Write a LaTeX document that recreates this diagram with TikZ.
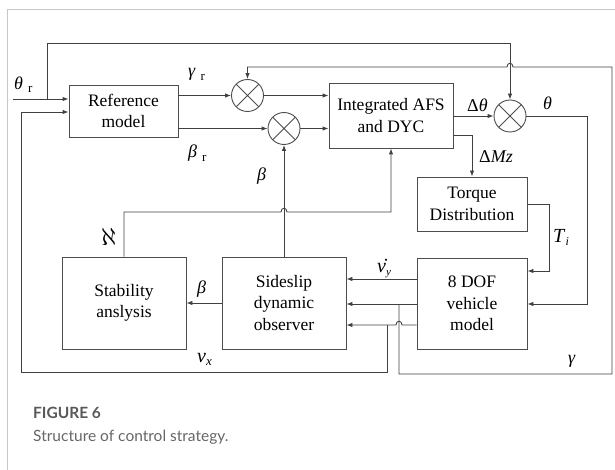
\documentclass[tikz,border=0pt]{standalone}
\usepackage{fontspec}
\setmainfont{Liberation Serif}
\newfontfamily\capfont{Lato}
\usetikzlibrary{arrows.meta}

\begin{document}
\begin{tikzpicture}[x=1pt,y=-1pt,
  wire/.style={draw=black!75, line width=0.9pt},
  arr/.style={wire,-{Latex[length=6pt,width=4.5pt]}},
  blk/.style={draw=black!70, line width=0.9pt, inner sep=0pt, align=center,
    font=\fontsize{17.5}{21.5}\selectfont},
  sum/.style={circle, draw=black!70, line width=0.9pt, minimum size=32pt, inner sep=0pt,
    path picture={\draw[black!70,line width=0.9pt]
      (path picture bounding box.north west) -- (path picture bounding box.south east)
      (path picture bounding box.north east) -- (path picture bounding box.south west);}},
  lbl/.style={inner sep=0pt, anchor=base west, font=\fontsize{18}{18}\selectfont},
]
\useasboundingbox (0,0) rectangle (615,470);

% card frame
\draw[black!22, line width=0.8pt] (7,470) -- (7,9) -- (615,9);

% blocks
\node[blk, minimum width=109pt, minimum height=52pt] (ref) at (123.5,111) {Reference\\model};
\node[blk, minimum width=124pt, minimum height=65pt] (afs) at (391,115.5) {Integrated AFS\\and DYC};
\node[blk, minimum width=110pt, minimum height=54pt] (tq)  at (472,204) {Torque\\Distribution};
\node[blk, minimum width=110pt, minimum height=91pt] (dof) at (472,303.5) {8 DOF\\vehicle\\model};
\node[blk, minimum width=124pt, minimum height=92pt] (obs) at (284,303) {Sideslip\\dynamic\\observer};
\node[blk, minimum width=124pt, minimum height=92pt] (stab) at (124,303) {Stability\\anslysis};

% summing junctions
\node[sum] (s1) at (247.5,95.5) {};
\node[sum] (s2) at (284,128.5) {};
\node[sum] (s3) at (510,116) {};

% helper points
\coordinate (thin) at (13,99);
\coordinate (j0) at (47,99);
\coordinate (top) at (0,43);
\coordinate (thx) at (587,304);
\coordinate (mz) at (472,135);
\coordinate (ti) at (549,271);
\coordinate (gb) at (399,304);
\coordinate (vb) at (387,325);

% steering reference input
\draw[arr] (thin) -- (thin -| ref.west);
\draw[arr] (j0) -- (j0 |- top) -| (s3.north);

% reference model outputs
\draw[arr] (ref.east |- s1) -- (s1.west);
\draw[arr] (ref.east |- s2) -- (s2.west);
\draw[arr] (s1.east) -- (s1.east -| afs.west);
\draw[arr] (s2.east) -- (s2.east -| afs.west);

% controller outputs
\draw[arr] (afs.east |- s3) -- (s3.west);
\draw[arr] (s3.east) -| (thx) -- (thx -| dof.east);
\draw[arr] (mz -| afs.east) -| (tq.north);
\draw[arr] (tq.east) -| (ti) -- (ti -| dof.east);

% vehicle model to observer
\draw[arr] (dof.west |- 0,279) -- (obs.east |- 0,279);
\draw[arr] (dof.west |- gb) -- (obs.east |- gb);
\draw[arr] (dof.west |- vb) -- (402,325) .. controls (402,320) and (396,320) .. (396,325) -- (obs.east |- vb);

% yaw-rate feedback
\draw[arr] (gb) -- (399,374) -- (612,374) -- (612,67) -- (513,67)
  .. controls (513,62) and (507,62) .. (507,67) -- (s1.north |- 0,67) -- (s1.north);

% longitudinal speed feedback
\draw[arr] (vb) -- (387,372) -- (21,372) -- (21,112) -- (ref.west |- 0,112);

% sideslip estimate
\draw[arr] (obs.north) -- (s2.south);
\draw[arr] (obs.west) -- (stab.east);

% stability index to controller
\draw[arr] (stab.north) -- (124,212) -- (281,212)
  .. controls (281,207) and (287,207) .. (287,212) -- (afs.south |- 0,212) -- (afs.south);

% signal labels
\node[lbl] (lthr) at (14,90) {\textit{θ}\hspace{5pt}\raisebox{-3pt}{\fontsize{13}{13}\selectfont r}};
\node[lbl] (lgr) at (188,77) {\textit{γ}\hspace{5pt}\raisebox{-4pt}{\fontsize{13}{13}\selectfont r}};
\node[lbl] (lbr) at (188,158) {\textit{β}\hspace{5pt}\raisebox{-4pt}{\fontsize{13}{13}\selectfont r}};
\node[lbl] (lb1) at (257,181) {\textit{β}};
\node[lbl] (ldth) at (467,112) {Δ\textit{θ}};
\node[lbl] (lth) at (543,110) {\textit{θ}};
\node[lbl] (lmz) at (479,163) {Δ\textit{Mz}};
\node[lbl, font=\fontsize{20}{20}\selectfont] (lti) at (553,243) {\textit{T}\raisebox{-3pt}{\fontsize{12}{12}\selectfont\textit{i}}};
\node[lbl, font=\fontsize{20}{20}\selectfont] (lvy) at (377,272) {\.{\textit{v}}\raisebox{-3pt}{\fontsize{11}{11}\selectfont\textit{y}}};
\node[lbl, font=\fontsize{20}{20}\selectfont] (lvx) at (197,362) {\textit{v}\raisebox{-3pt}{\fontsize{13}{13}\selectfont\textit{x}}};
\node[lbl] (lg) at (568,363) {\textit{γ}};
\node[lbl] (lb2) at (197,293) {\textit{β}};
\node[lbl, font=\fontsize{24}{24}\selectfont] (lal) at (101,246) {$\aleph$};

% caption
\node[inner sep=0pt, anchor=base west, font=\capfont\bfseries\fontsize{15.5}{16}\selectfont, text=black!65] (fig) at (33,418) {FIGURE 6};
\node[inner sep=0pt, anchor=base west, font=\capfont\fontsize{15.5}{16}\selectfont, text=black!60] (cap) at (33,441) {Structure of control strategy.};
\end{tikzpicture}
\end{document}
